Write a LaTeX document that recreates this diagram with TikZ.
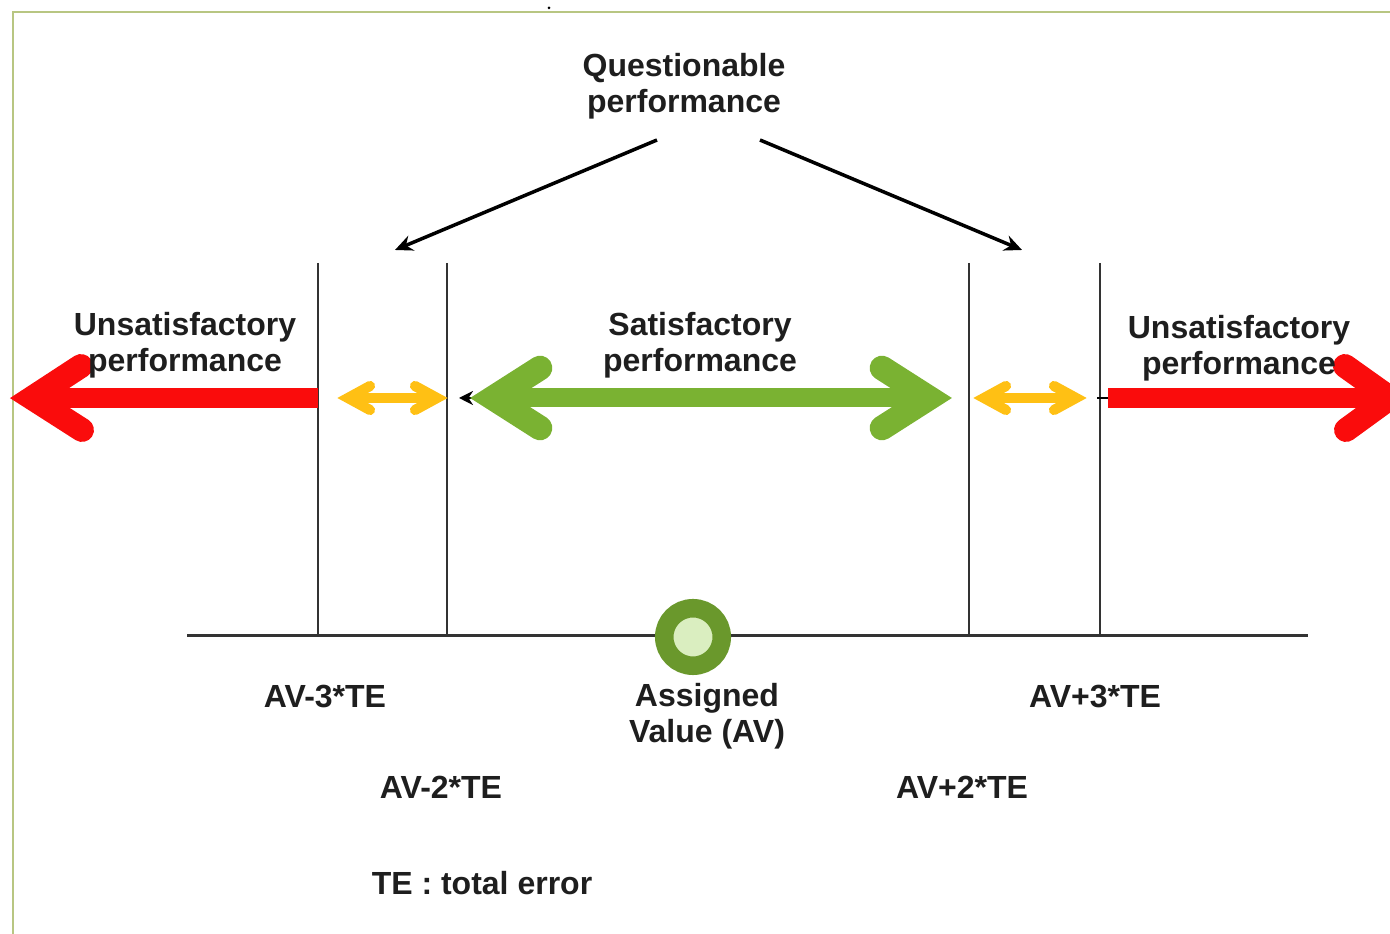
\documentclass[tikz,border=0pt]{standalone}
\usepackage{fontspec}
\setmainfont{Liberation Sans}
\usetikzlibrary{arrows.meta}

\definecolor{framegreen}{RGB}{184,198,130}
\definecolor{badred}{RGB}{250,12,12}
\definecolor{okgreen}{RGB}{122,178,50}
\definecolor{midorange}{RGB}{255,192,20}
\definecolor{avgreen}{RGB}{106,152,44}
\definecolor{avlight}{RGB}{218,238,192}
\definecolor{inktext}{RGB}{30,30,30}

\tikzset{
    lbl/.style={font=\bfseries\fontsize{9.1}{10.2}\selectfont, text=inktext, align=center, inner sep=0pt},
    limit/.style={draw=black!80, line width=0.6pt},
    pointer/.style={line width=1pt, -{Stealth[length=5pt,width=4.5pt]}},
    chevron/.style={line cap=round, line join=miter, miter limit=10},
}

\begin{document}
\begin{tikzpicture}[x=0.01cm, y=-0.01cm]
    \useasboundingbox (0,0) rectangle (1390,934);

    % frame
    \draw[framegreen, line width=0.6pt] (13,934) -- (13,12) -- (1390,12);
    \fill (549,8) circle (1.5);

    % axis and limits
    \coordinate (axisL) at (187,636);
    \coordinate (axisR) at (1308,636);
    \draw[black!80, line width=0.85pt] (axisL) -- (axisR);
    \draw[limit] (318,263) -- (318,636);
    \draw[limit] (447,263) -- (447,636);
    \draw[limit] (969,263) -- (969,636);
    \draw[limit] (1100,263) -- (1100,636);

    % small black marks behind the arrows
    \draw[line width=0.6pt, -{Stealth[length=4pt,width=4pt]}] (480,398) -- (459,398);
    \draw[line width=0.8pt] (1097,398) -- (1112,398);

    % unsatisfactory, left
    \coordinate (redL) at (32,398);
    \draw[badred, line width=5.7pt] (318,398) -- (redL);
    \draw[badred, chevron, line width=6.8pt] (81,366) -- (redL) -- (82,430);

    % unsatisfactory, right
    \coordinate (redR) at (1390,398);
    \draw[badred, line width=5.7pt] (1108,398) -- (redR);
    \draw[badred, chevron, line width=6.8pt] (1345,366) -- (redR) -- (1346,430);

    % satisfactory
    \coordinate (greenL) at (493,398);
    \coordinate (greenR) at (929,398);
    \draw[okgreen, line width=5.4pt] (greenL) -- (greenR);
    \draw[okgreen, chevron, line width=7pt] (540,368) -- (greenL) -- (540,428);
    \draw[okgreen, chevron, line width=7pt] (882,368) -- (greenR) -- (882,428);

    % questionable, left and right
    \coordinate (orL1) at (348,398);
    \coordinate (orL2) at (437,398);
    \draw[midorange, line width=2.6pt] (orL1) -- (orL2);
    \draw[midorange, chevron, line width=2.9pt] (370,386) -- (orL1) -- (370,410);
    \draw[midorange, chevron, line width=2.9pt] (415,386) -- (orL2) -- (415,410);
    \coordinate (orR1) at (984,398);
    \coordinate (orR2) at (1076,398);
    \draw[midorange, line width=2.6pt] (orR1) -- (orR2);
    \draw[midorange, chevron, line width=2.9pt] (1006,386) -- (orR1) -- (1006,410);
    \draw[midorange, chevron, line width=2.9pt] (1054,386) -- (orR2) -- (1054,410);

    % assigned value
    \node[circle, draw=avgreen, fill=avlight, line width=0.185cm, minimum size=0.575cm, inner sep=0pt] (av) at (693,637) {};

    % labels
    \node[lbl] (quest) at (684,86) {Questionable\\performance};
    \node[lbl] (unsatL) at (185,345) {Unsatisfactory\\performance};
    \node[lbl] (sat) at (700,345) {Satisfactory\\performance};
    \node[lbl] (unsatR) at (1239,348) {Unsatisfactory\\performance};
    \node[lbl] (m3lbl) at (325,697) {AV-3*TE};
    \node[lbl] (p3lbl) at (1095,697) {AV+3*TE};
    \node[lbl] (avlbl) at (707,716) {Assigned\\Value (AV)};
    \node[lbl] (m2lbl) at (441,787) {AV-2*TE};
    \node[lbl] (p2lbl) at (962,787) {AV+2*TE};
    \node[lbl] (telbl) at (482,883) {TE : total error};

    % pointers to the questionable zones
    \coordinate (qa) at (657,140);
    \coordinate (qb) at (760,140);
    \coordinate (qL) at (395,250);
    \coordinate (qR) at (1022,250);
    \draw[pointer] (qa) -- (qL);
    \draw[pointer] (qb) -- (qR);
\end{tikzpicture}
\end{document}
